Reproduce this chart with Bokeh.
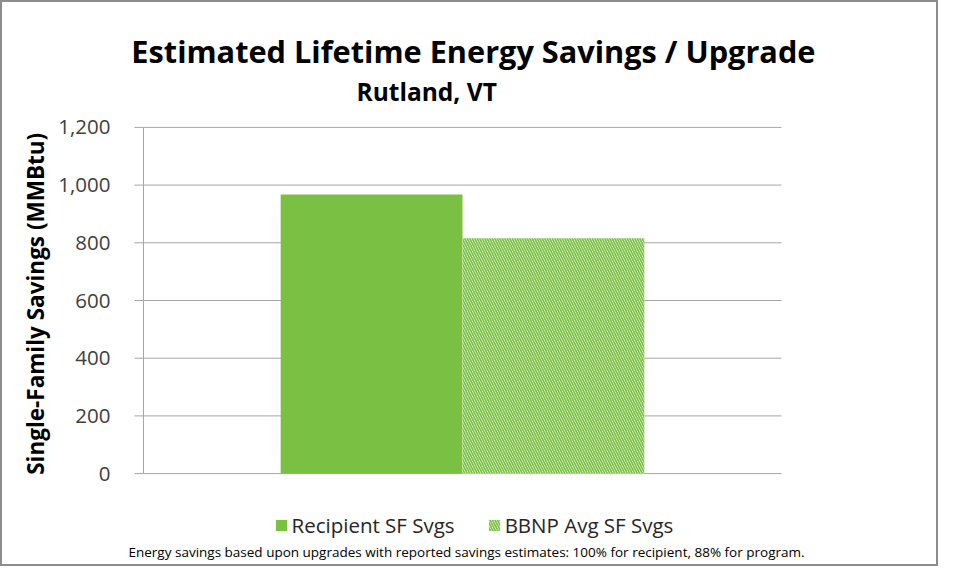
from bokeh.plotting import figure
from bokeh.models import (FactorRange, ColumnDataSource, Legend, LegendItem, Label, Range1d)
from bokeh.transform import dodge
from bokeh.core.properties import value
from bokeh.embed import file_html
from bokeh.resources import INLINE

# ---- data ----
location = ["Rutland, VT"]
series_names = ["Recipient SF Svgs", "BBNP Avg SF Svgs"]
recipient_svgs = [967]
bbnp_avg_svgs = [816]
y_ticks = [0, 200, 400, 600, 800, 1000, 1200]
y_tick_labels = ["0", "200", "400", "600", "800", "1,000", "1,200"]
title_text = "Estimated Lifetime Energy Savings / Upgrade"
subtitle_text = "Rutland, VT"
y_label_text = "Single-Family Savings (MMBtu)"
footnote_text = ("Energy savings based upon upgrades with reported savings estimates: "
                 "100% for recipient, 88% for program.")

GREEN = "#7AC143"
GRID = "#a6a6a6"
FONT = "Open Sans"

# ---- layout constants (canvas pixels) ----
W, H = 938, 566
CW, CH = W, H
PLOT_L, PLOT_R = 141.0, 779.1
PLOT_T, PLOT_B = 124.9, 471.1
FRAME_W = PLOT_L + PLOT_R
PLOT_W = PLOT_R - PLOT_L
Y0, Y1 = y_ticks[0], y_ticks[-1]
upp = (Y1 - Y0) / (PLOT_B - PLOT_T)
y_range = Range1d(Y0 - (CH - PLOT_B) * upp, Y1 + PLOT_T * upp)

p = figure(width=W, height=H,
           x_range=FactorRange(*location, range_padding=(FRAME_W - PLOT_W) / PLOT_W),
           y_range=y_range, output_backend="svg", toolbar_location=None, title=None,
           min_border_left=0, min_border_top=0, min_border_bottom=0,
           min_border_right=int(round(CW - FRAME_W)))
p.styles = {"border": "2px solid #8c8c8c"}
p.outline_line_color = None
p.background_fill_color = "white"
p.xaxis.visible = False
p.yaxis.visible = False
p.grid.visible = False

# ---- axis & grid drawn through the scales ----
n = len(y_ticks)
ax_src = ColumnDataSource(dict(loc=location * n, tick=y_ticks, lab=y_tick_labels))
tick_len = 9 / PLOT_W
p.segment(x0=dodge("loc", -0.5, range=p.x_range), x1=dodge("loc", 0.5, range=p.x_range),
          y0="tick", y1="tick", source=ax_src, line_color=GRID, line_width=1)
p.segment(x0=dodge("loc", -0.5 - tick_len, range=p.x_range),
          x1=dodge("loc", -0.5, range=p.x_range),
          y0="tick", y1="tick", source=ax_src, line_color=GRID, line_width=1)
p.segment(x0=dodge("loc", -0.5, range=p.x_range), x1=dodge("loc", -0.5, range=p.x_range),
          y0=Y0, y1=Y1, source=ColumnDataSource(dict(loc=location)),
          line_color=GRID, line_width=1)
p.text(x=dodge("loc", -0.5, range=p.x_range), y="tick", text="lab", source=ax_src,
       x_offset=-33, text_align="right", text_baseline="middle",
       text_font=value(FONT), text_font_size="20.5px", text_color="#404040")

# ---- bars ----
src = ColumnDataSource(dict(loc=location, rec=recipient_svgs, bbnp=bbnp_avg_svgs))
r1 = p.vbar(x=dodge("loc", -0.1425, range=p.x_range), top="rec", width=0.285, source=src,
            fill_color=GREEN, line_color=None)
r2 = p.vbar(x=dodge("loc", 0.1425, range=p.x_range), top="bbnp", width=0.285, source=src,
            fill_color="white", line_color=None, hatch_pattern="\\", hatch_color=GREEN,
            hatch_scale=5, hatch_weight=1.7)

# ---- texts (screen units from bottom-left of canvas) ----
def lab(x, y_from_top, text, size, bold=False, angle=0):
    p.add_layout(Label(x=x, y=CH - y_from_top, x_units="screen", y_units="screen",
                       text=text, text_font=FONT, text_font_size=size,
                       text_font_style="bold" if bold else "normal",
                       text_align="center", text_baseline="middle", text_color="black",
                       angle=angle, angle_units="deg"))

lab(470.9, 48.6, title_text, "30.7px", bold=True)
lab(424.2, 88.9, subtitle_text, "24.5px", bold=True)
lab(33.4, 301.3, y_label_text, "22.5px", bold=True, angle=90)
lab(464.0, 549.9, footnote_text, "13.5px")

legend = Legend(items=[LegendItem(label=series_names[0], renderers=[r1]),
                       LegendItem(label=series_names[1], renderers=[r2])],
                location=(271.5, 29), orientation="horizontal",
                border_line_color=None, background_fill_alpha=0,
                padding=0, margin=0, spacing=32, label_standoff=4,
                glyph_width=14, glyph_height=14,
                label_text_font=FONT, label_text_font_size="20.5px",
                label_text_color="#262626")
p.add_layout(legend, "center")

open("out.html", "w").write(file_html(p, INLINE))
